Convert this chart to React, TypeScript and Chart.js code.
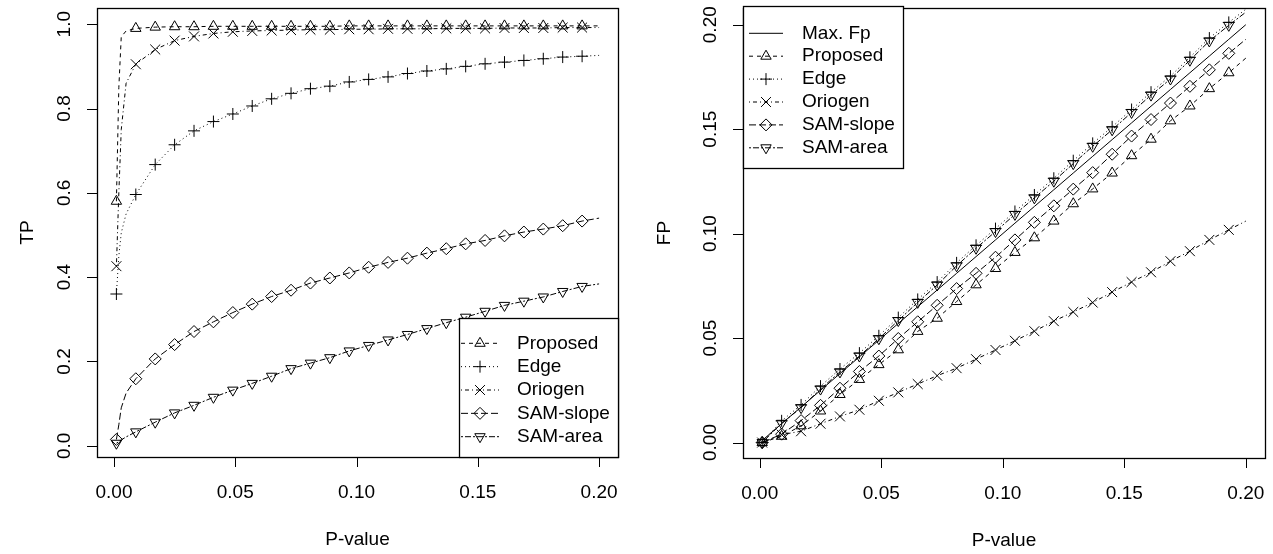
import React, { useEffect, useRef } from "react";
import { Chart, registerables } from "chart.js";
import { drawPoint } from "chart.js/helpers";

Chart.register(...registerables);

const FONT_FAMILY = '"Liberation Sans", Arial, Helvetica, sans-serif';
const FONT = `19px ${FONT_FAMILY}`;

// ---------- TP panel (true positives vs. p-value cut-off) ----------
const tpP = [
  0.001, 0.002, 0.003, 0.005, 0.009, 0.017, 0.025, 0.033, 0.041, 0.049, 0.057,
  0.065, 0.073, 0.081, 0.089, 0.097, 0.105, 0.113, 0.121, 0.129, 0.137, 0.145,
  0.153, 0.161, 0.169, 0.177, 0.185, 0.193, 0.2,
];
const tpProposed = [
  0.58, 0.85, 0.97, 0.984, 0.99, 0.993, 0.994, 0.994, 0.995, 0.995, 0.995,
  0.995, 0.995, 0.995, 0.995, 0.996, 0.996, 0.996, 0.996, 0.996, 0.996, 0.996,
  0.996, 0.996, 0.996, 0.996, 0.996, 0.996, 0.996,
];
const tpEdge = [
  0.36, 0.45, 0.505, 0.55, 0.596, 0.667, 0.714, 0.747, 0.769, 0.787, 0.806,
  0.823, 0.836, 0.847, 0.853, 0.863, 0.869, 0.875, 0.883, 0.889, 0.894, 0.9,
  0.906, 0.91, 0.914, 0.918, 0.922, 0.924, 0.926,
];
const tpOriogen = [
  0.426, 0.6, 0.75, 0.86, 0.905, 0.94, 0.961, 0.971, 0.978, 0.982, 0.984,
  0.985, 0.986, 0.987, 0.987, 0.988, 0.988, 0.989, 0.989, 0.989, 0.99, 0.99,
  0.99, 0.991, 0.991, 0.991, 0.992, 0.992, 0.992,
];
const tpSamSlope = [
  0.015, 0.05, 0.09, 0.125, 0.159, 0.206, 0.24, 0.271, 0.294, 0.316, 0.336,
  0.354, 0.369, 0.386, 0.398, 0.41, 0.4235, 0.435, 0.445, 0.457, 0.4675, 0.479,
  0.487, 0.498, 0.507, 0.514, 0.522, 0.533, 0.54,
];
const tpSamArea = [
  0.006, 0.01, 0.014, 0.021, 0.033, 0.056, 0.078, 0.096, 0.115, 0.132, 0.148,
  0.165, 0.183, 0.196, 0.209, 0.225, 0.238, 0.251, 0.264, 0.278, 0.292, 0.305,
  0.319, 0.333, 0.343, 0.353, 0.366, 0.378, 0.384,
];

// ---------- FP panel (false positives vs. p-value cut-off) ----------
const fpP = [
  0.001, 0.009, 0.017, 0.025, 0.033, 0.041, 0.049, 0.057, 0.065, 0.073, 0.081,
  0.089, 0.097, 0.105, 0.113, 0.121, 0.129, 0.137, 0.145, 0.153, 0.161, 0.169,
  0.177, 0.185, 0.193, 0.2,
];
const fpMax = [
  0.001, 0.009, 0.017, 0.025, 0.033, 0.041, 0.049, 0.057, 0.065, 0.073, 0.081,
  0.089, 0.097, 0.105, 0.113, 0.121, 0.129, 0.137, 0.145, 0.153, 0.161, 0.169,
  0.177, 0.185, 0.193, 0.2,
];
const fpProposed = [
  0.0, 0.003, 0.008, 0.0151, 0.023, 0.0302, 0.0373, 0.0444, 0.0532, 0.0595,
  0.0675, 0.0755, 0.0833, 0.091, 0.098, 0.106, 0.1143, 0.1214, 0.129, 0.1373,
  0.1452, 0.154, 0.1611, 0.1694, 0.177, 0.184,
];
const fpEdge = [
  0.0, 0.0104, 0.018, 0.027, 0.0352, 0.0428, 0.0511, 0.0598, 0.0685, 0.0768,
  0.086, 0.0944, 0.1024, 0.1106, 0.1185, 0.1265, 0.1349, 0.1432, 0.1511, 0.1594,
  0.1677, 0.1754, 0.1844, 0.1936, 0.2011, 0.2074,
];
const fpOriogen = [
  0.0, 0.0038, 0.0054, 0.009, 0.0125, 0.0157, 0.02, 0.024, 0.028, 0.032, 0.0356,
  0.0399, 0.0443, 0.0487, 0.0533, 0.0581, 0.0625, 0.067, 0.072, 0.0768, 0.0815,
  0.0868, 0.0916, 0.097, 0.1018, 0.106,
];
const fpSamSlope = [
  0.0, 0.004, 0.0105, 0.0178, 0.026, 0.034, 0.0414, 0.0498, 0.0578, 0.0657,
  0.0737, 0.081, 0.0887, 0.097, 0.1054, 0.1133, 0.1213, 0.1292, 0.138, 0.1467,
  0.1546, 0.1625, 0.1705, 0.1784, 0.1863, 0.193,
];
const fpSamArea = [
  0.0, 0.0092, 0.0167, 0.0256, 0.0338, 0.0414, 0.0497, 0.0584, 0.0671, 0.0754,
  0.0846, 0.093, 0.101, 0.1092, 0.1171, 0.1251, 0.1335, 0.1418, 0.1497, 0.158,
  0.1663, 0.174, 0.183, 0.1922, 0.1997, 0.206,
];

// p-values at which a symbol is plotted on each curve
const markedP = [
  0.001, 0.009, 0.017, 0.025, 0.033, 0.041, 0.049, 0.057, 0.065, 0.073, 0.081,
  0.089, 0.097, 0.105, 0.113, 0.121, 0.129, 0.137, 0.145, 0.153, 0.161, 0.169,
  0.177, 0.185, 0.193,
];

// ---------- axis ticks ----------
const pTicks = [0, 0.05, 0.1, 0.15, 0.2];
const pTickLabels = ["0.00", "0.05", "0.10", "0.15", "0.20"];
const tpTicks = [0, 0.2, 0.4, 0.6, 0.8, 1.0];
const tpTickLabels = ["0.0", "0.2", "0.4", "0.6", "0.8", "1.0"];
const fpTicks = [0, 0.05, 0.1, 0.15, 0.2];
const fpTickLabels = ["0.00", "0.05", "0.10", "0.15", "0.20"];

// line type + plotting symbol of each method
type Style = {
  dash: number[];
  pointStyle: string | false;
  rotation?: number;
  radius?: number;
};
const STYLES: Record<string, Style> = {
  "Max. Fp": { dash: [], pointStyle: false },
  Proposed: { dash: [4, 4], pointStyle: "triangle", rotation: 0, radius: 6 },
  Edge: { dash: [1, 3], pointStyle: "cross", radius: 6 },
  Oriogen: { dash: [1, 3, 4, 3], pointStyle: "crossRot", radius: 7 },
  "SAM-slope": { dash: [7, 3], pointStyle: "rectRot", radius: 6 },
  "SAM-area": { dash: [2, 2, 6, 2], pointStyle: "triangle", rotation: 180, radius: 6 },
};

function makeDataset(label: string, xs: number[], ys: number[]) {
  const st = STYLES[label];
  return {
    label,
    data: xs.map((x, i) => ({ x, y: ys[i] })),
    borderColor: "#000",
    borderWidth: 1,
    borderDash: st.dash,
    fill: false,
    tension: 0,
    pointStyle: st.pointStyle || "circle",
    pointRotation: st.rotation || 0,
    pointRadius: (c: any) =>
      st.pointStyle && markedP.includes(xs[c.dataIndex]) ? st.radius : 0,
    pointBorderColor: "#000",
    pointBackgroundColor: "rgba(0,0,0,0)",
    pointBorderWidth: 1,
  };
}

type PanelCfg = {
  yTicks: number[];
  yTickLabels: string[];
  yTitle: string;
  yTitleOffset: number;
  legend: {
    names: string[];
    box: [number, number, number, number];
    lineX: [number, number];
    textX: number;
    firstY: number;
    step: number;
  };
};

const TICK = 10;

function rFramePlugin(cfg: PanelCfg) {
  return {
    id: "rFrame",
    afterDraw(chart: any) {
      const { ctx, chartArea: a } = chart;
      const xs = chart.scales.x;
      const ys = chart.scales.y;
      const crisp = (v: number) => Math.round(v) + 0.5;
      ctx.save();
      ctx.strokeStyle = "#000";
      ctx.fillStyle = "#000";
      ctx.setLineDash([]);

      // plot box
      ctx.lineWidth = 1.3;
      ctx.strokeRect(crisp(a.left), crisp(a.top), Math.round(a.right - a.left), Math.round(a.bottom - a.top));

      // tick marks
      ctx.lineWidth = 1;
      ctx.beginPath();
      pTicks.forEach((v) => {
        const px = crisp(xs.getPixelForValue(v));
        ctx.moveTo(px, a.bottom);
        ctx.lineTo(px, a.bottom + TICK);
      });
      cfg.yTicks.forEach((v) => {
        const py = crisp(ys.getPixelForValue(v));
        ctx.moveTo(a.left, py);
        ctx.lineTo(a.left - TICK, py);
      });
      ctx.stroke();

      // tick labels
      ctx.font = FONT;
      ctx.textAlign = "center";
      ctx.textBaseline = "middle";
      pTicks.forEach((v, i) => {
        ctx.fillText(pTickLabels[i], xs.getPixelForValue(v), a.bottom + 36);
      });
      cfg.yTicks.forEach((v, i) => {
        ctx.save();
        ctx.translate(a.left - 32, ys.getPixelForValue(v));
        ctx.rotate(-Math.PI / 2);
        ctx.fillText(cfg.yTickLabels[i], 0, 0);
        ctx.restore();
      });

      // axis titles
      ctx.fillText("P-value", (a.left + a.right) / 2, a.bottom + 83);
      ctx.save();
      ctx.translate(a.left - cfg.yTitleOffset, (a.top + a.bottom) / 2);
      ctx.rotate(-Math.PI / 2);
      ctx.fillText(cfg.yTitle, 0, 0);
      ctx.restore();

      // legend
      const lg = cfg.legend;
      const [bx0, by0, bx1, by1] = lg.box;
      ctx.fillStyle = "#fff";
      ctx.fillRect(bx0, by0, bx1 - bx0, by1 - by0);
      ctx.lineWidth = 1.3;
      ctx.strokeRect(crisp(bx0), crisp(by0), Math.round(bx1 - bx0), Math.round(by1 - by0));
      ctx.lineWidth = 1;
      lg.names.forEach((name, i) => {
        const st = STYLES[name];
        const y = lg.firstY + i * lg.step;
        ctx.save();
        ctx.setLineDash(st.dash);
        ctx.beginPath();
        ctx.moveTo(lg.lineX[0], y);
        ctx.lineTo(lg.lineX[1], y);
        ctx.stroke();
        ctx.restore();
        if (st.pointStyle) {
          ctx.save();
          ctx.setLineDash([]);
          ctx.fillStyle = "rgba(0,0,0,0)";
          ctx.strokeStyle = "#000";
          ctx.lineWidth = 1;
          drawPoint(
            ctx,
            {
              pointStyle: st.pointStyle,
              rotation: st.rotation || 0,
              radius: st.radius,
              borderWidth: 1,
            } as any,
            (lg.lineX[0] + lg.lineX[1]) / 2,
            y
          );
          ctx.restore();
        }
        ctx.fillStyle = "#000";
        ctx.textAlign = "left";
        ctx.textBaseline = "middle";
        ctx.font = FONT;
        ctx.fillText(name, lg.textX, y);
      });
      ctx.restore();
    },
  };
}

function tpConfig(): any {
  const names = ["Proposed", "Edge", "Oriogen", "SAM-slope", "SAM-area"];
  const series = [tpProposed, tpEdge, tpOriogen, tpSamSlope, tpSamArea];
  const panel: PanelCfg = {
    yTicks: tpTicks,
    yTickLabels: tpTickLabels,
    yTitle: "TP",
    yTitleOffset: 69,
    legend: {
      names,
      box: [459, 318, 618, 457],
      lineX: [461, 499],
      textX: 517,
      firstY: 343.3,
      step: 23.35,
    },
  };
  return {
    type: "line",
    data: { datasets: names.map((n, i) => makeDataset(n, tpP, series[i])) },
    options: {
      animation: false,
      responsive: false,
      maintainAspectRatio: false,
      events: [],
      layout: { padding: { left: 97, top: 5, right: 18, bottom: 97 } },
      plugins: { legend: { display: false }, tooltip: { enabled: false } },
      scales: {
        x: { type: "linear", min: -0.007, max: 0.2078, display: false },
        y: { type: "linear", min: -0.0266, max: 1.0384, display: false },
      },
    },
    plugins: [rFramePlugin(panel)],
  };
}

function fpConfig(): any {
  const names = ["Max. Fp", "Proposed", "Edge", "Oriogen", "SAM-slope", "SAM-area"];
  const series = [fpMax, fpProposed, fpEdge, fpOriogen, fpSamSlope, fpSamArea];
  const panel: PanelCfg = {
    yTicks: fpTicks,
    yTickLabels: fpTickLabels,
    yTitle: "FP",
    yTitleOffset: 78,
    legend: {
      names,
      box: [107, 6, 267, 168],
      lineX: [113, 147],
      textX: 166,
      firstY: 33.3,
      step: 22.9,
    },
  };
  return {
    type: "line",
    data: { datasets: names.map((n, i) => makeDataset(n, fpP, series[i])) },
    options: {
      animation: false,
      responsive: false,
      maintainAspectRatio: false,
      events: [],
      layout: { padding: { left: 107, top: 6, right: 8, bottom: 96 } },
      plugins: { legend: { display: false }, tooltip: { enabled: false } },
      scales: {
        x: { type: "linear", min: -0.0069, max: 0.2079, display: false },
        y: { type: "linear", min: -0.0074, max: 0.208, display: false },
      },
    },
    plugins: [rFramePlugin(panel)],
  };
}

function Panel({ make, left, width }: { make: () => any; left: number; width: number }) {
  const ref = useRef<HTMLCanvasElement>(null);
  useEffect(() => {
    const chart = new Chart(ref.current as HTMLCanvasElement, make());
    return () => chart.destroy();
  }, [make]);
  return (
    <canvas
      ref={ref}
      width={width}
      height={554}
      style={{ position: "absolute", left, top: 0, width, height: 554 }}
    />
  );
}

export default function App() {
  return (
    <div
      style={{
        position: "fixed",
        left: 0,
        top: 0,
        width: 1273,
        height: 554,
        background: "#fff",
        overflow: "hidden",
      }}
    >
      <Panel make={tpConfig} left={0} width={636} />
      <Panel make={fpConfig} left={636} width={637} />
    </div>
  );
}
